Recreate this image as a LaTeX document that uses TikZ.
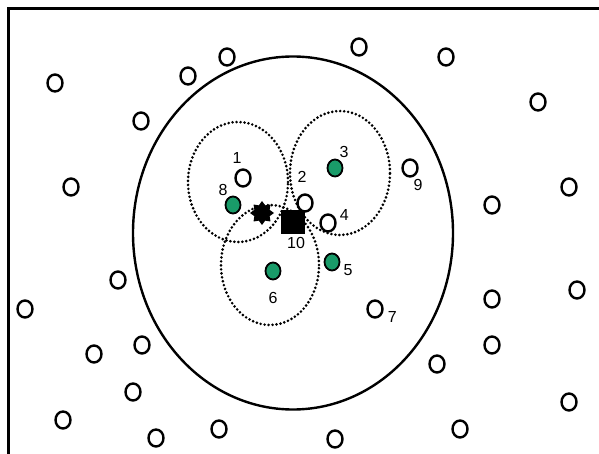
\documentclass[tikz,border=0pt]{standalone}
\usepackage{fontspec}
\setmainfont{Liberation Sans}
\usepackage{xcolor}
\usetikzlibrary{positioning,shapes.geometric}
\definecolor{nodegreen}{RGB}{25,155,105}

\begin{document}
\begin{tikzpicture}[
  x=1pt, y=-1pt,
  open/.style={draw, line width=2.4pt, ellipse, minimum width=15pt, minimum height=17pt, inner sep=0pt},
  sel/.style={open, fill=nodegreen, line width=1.8pt},
  num/.style={inner sep=0pt, font=\fontsize{16}{18}\selectfont},
  reach/.style={draw, line width=2.9pt, line cap=round, dash pattern=on 0pt off 4pt, ellipse, inner sep=0pt}
]
\useasboundingbox (0,0) rectangle (599,454);
% frame
\draw[line width=3pt] (8,460) -- (8,8.5) -- (605,8.5);

% big circle
\node[draw, line width=2.4pt, ellipse, minimum width=320pt, minimum height=353pt, inner sep=0pt] (area) at (293,233) {};

% background nodes
\foreach \px/\py [count=\i] in {55/83, 141/121, 188/76, 227/57, 71/187, 359/47, 446/57, 538/102,
    569/187, 492/205, 118/280, 25/309, 94/354, 142/345, 133/392, 63/420, 156/438, 219/429,
    492/299, 577/290, 492/345, 437/364, 569/402, 460/429, 335/439}
  \node[open] (o\i) at (\px,\py) {};

% ranges
\node[reach, minimum width=100pt, minimum height=120pt] (r1) at (238,182) {};
\node[reach, minimum width=100pt, minimum height=124pt] (r3) at (340,173) {};
\node[reach, minimum width=98pt, minimum height=120pt] (r6) at (270,265) {};

% numbered nodes
\node[open] (c1) at (243,178) {};
\node[open] (c2) at (305,203) {};
\node[sel] (c3) at (335,168) {};
\node[open] (c4) at (328,223) {};
\node[sel] (c5) at (332,262) {};
\node[sel] (c6) at (273,271) {};
\node[open] (c7) at (375,309) {};
\node[sel] (c8) at (233,205) {};
\node[open] (c9) at (410,168) {};
\node[fill=black, minimum size=24pt, inner sep=0pt] (c10) at (293,222) {};
\node[star, star points=8, star point ratio=1.45, fill=black, minimum size=24pt, inner sep=0pt] (src) at (262,213) {};

% labels
\node[num, above=5pt of c1, xshift=-6pt] (n1) {1};
\node[num, above=11pt of c2, xshift=-3pt] (n2) {2};
\node[num, above=1pt of c3, xshift=9pt] (n3) {3};
\node[num, right=3pt of c4, yshift=8pt] (n4) {4};
\node[num, right=3pt of c5, yshift=-8pt] (n5) {5};
\node[num, below=12pt of c6] (n6) {6};
\node[num, right=4pt of c7, yshift=-8pt] (n7) {7};
\node[num, above=0pt of c8, xshift=-10pt] (n8) {8};
\node[num, below=1pt of c9, xshift=8pt] (n9) {9};
\node[num, below=3pt of c10, xshift=3pt] (n10) {10};
\end{tikzpicture}
\end{document}
